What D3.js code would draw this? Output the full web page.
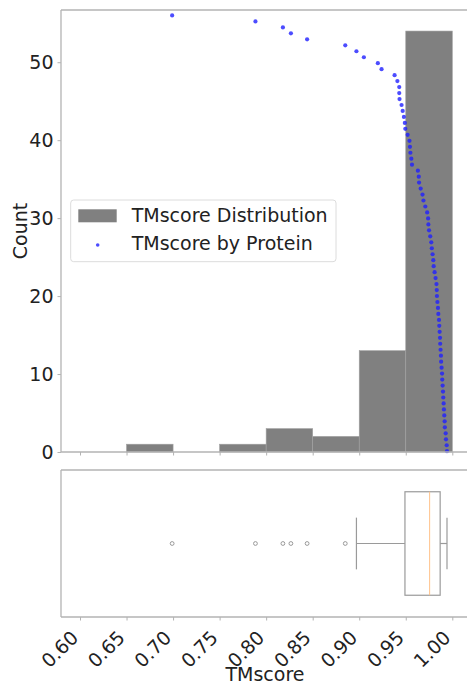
<!DOCTYPE html>
<html>
<head>
<meta charset="utf-8">
<script src="https://cdn.jsdelivr.net/npm/d3@7"></script>
<style>
  html, body { margin: 0; padding: 0; background: #fff; }
  svg { display: block; font-family: "DejaVu Sans", sans-serif; }
</style>
</head>
<body>
<svg id="chart" width="467" height="687"></svg>
<script>
// ---- data ----
const binEdges = [0.65, 0.70, 0.75, 0.80, 0.85, 0.90, 0.95, 1.00];
const binCounts = [1, 0, 1, 3, 2, 13, 54];
// per-protein TM scores, sorted ascending
const tmScores = [
  0.699, 0.7885, 0.818, 0.8266, 0.844, 0.885, 0.897, 0.905, 0.920, 0.924,
  0.938, 0.941, 0.943, 0.943, 0.9433, 0.9455, 0.9467, 0.948, 0.949, 0.9495,
  0.952, 0.954, 0.9545, 0.955, 0.956, 0.9567, 0.963, 0.964, 0.9643, 0.966,
  0.968, 0.969, 0.971, 0.973, 0.974, 0.9743, 0.975, 0.9763, 0.9774, 0.978,
  0.9788, 0.9796, 0.980, 0.981, 0.982, 0.983, 0.9833, 0.9835, 0.984, 0.9846,
  0.985, 0.9857, 0.986, 0.9864, 0.9868, 0.987, 0.9874, 0.9878, 0.988, 0.9885,
  0.989, 0.9892, 0.9896, 0.990, 0.9903, 0.9907, 0.991, 0.9914, 0.9918, 0.992,
  0.9929, 0.9932, 0.994, 0.9943
];
const xTicks = [0.60, 0.65, 0.70, 0.75, 0.80, 0.85, 0.90, 0.95, 1.00];
const yTicks = [0, 10, 20, 30, 40, 50];
const rankTopCount = 56;   // scatter ranks drawn from this count (lowest score) down to 0
const legendLabels = ["TMscore Distribution", "TMscore by Protein"];

// ---- layout ----
const svg = d3.select("#chart");
const axL = 61, axR = 469;
const mainTop = 10, mainBot = 452;
const boxTop = 470, boxBot = 617;
const spine = "#b3b3b3", textCol = "#222";
const FS = 19;

const x = d3.scaleLinear().domain([0.60, 1.00]).range([80, 452.3]);
const y = d3.scaleLinear().domain([0, 56.7]).range([mainBot, mainTop]);
const yRank = d3.scaleLinear().domain([0, tmScores.length - 1]).range([y(rankTopCount), y(0.1)]);
const yBox = d3.scaleLinear().domain([0.5, 1.5]).range([boxBot, boxTop]);

// ---- histogram bars ----
const bars = binCounts.map((c, i) => ({x0: binEdges[i], x1: binEdges[i + 1], c}));
svg.append("g").selectAll("rect").data(bars.filter(d => d.c > 0)).join("rect")
  .attr("x", d => x(d.x0)).attr("width", d => x(d.x1) - x(d.x0))
  .attr("y", d => y(d.c)).attr("height", d => y(0) - y(d.c))
  .attr("fill", "#808080").attr("stroke", "#a0a0a0").attr("stroke-width", 0.6);

// ---- scatter ----
svg.append("g").selectAll("circle").data(tmScores).join("circle")
  .attr("cx", d => x(d)).attr("cy", (d, i) => yRank(i)).attr("r", 2.1)
  .attr("fill", "#1f1fff").attr("fill-opacity", 0.8);

// ---- main axes spines ----
const spines = svg.append("g").attr("stroke", spine).attr("stroke-width", 1.3).attr("fill", "none");
spines.append("line").attr("x1", axL).attr("x2", axL).attr("y1", mainTop).attr("y2", mainBot);
spines.append("line").attr("x1", axL).attr("x2", axR).attr("y1", mainTop).attr("y2", mainTop);
spines.append("line").attr("x1", axL).attr("x2", axR).attr("y1", mainBot).attr("y2", mainBot);

// y axis ticks/labels
const yAxis = svg.append("g").attr("transform", `translate(${axL},0)`)
  .call(d3.axisLeft(y).tickValues(yTicks).tickSize(3.5).tickPadding(4).tickFormat(d3.format("d")));
yAxis.select(".domain").remove();
yAxis.selectAll("line").attr("stroke", spine);
yAxis.selectAll("text").attr("font-size", FS).attr("fill", textCol).attr("font-family", "DejaVu Sans");

// x ticks on main axes (no labels)
const xAxisTop = svg.append("g").attr("transform", `translate(0,${mainBot})`)
  .call(d3.axisBottom(x).tickValues(xTicks).tickSize(3.5).tickFormat(""));
xAxisTop.select(".domain").remove();
xAxisTop.selectAll("line").attr("stroke", spine);

// Count label
svg.append("text").attr("transform", `translate(27,${(mainTop + mainBot) / 2}) rotate(-90)`)
  .attr("text-anchor", "middle").attr("font-size", FS).attr("fill", textCol).text("Count");

// ---- legend ----
const lg = svg.append("g");
lg.append("rect").attr("x", 70.7).attr("y", 200).attr("width", 265.3).attr("height", 61.7)
  .attr("rx", 3).attr("fill", "#fff").attr("fill-opacity", 0.8).attr("stroke", "#dcdcdc").attr("stroke-width", 1);
lg.append("rect").attr("x", 78.3).attr("y", 209.3).attr("width", 38.4).attr("height", 13)
  .attr("fill", "#808080");
lg.append("circle").attr("cx", 97.7).attr("cy", 245).attr("r", 1.8).attr("fill", "#1f1fff").attr("fill-opacity", 0.8);
lg.selectAll("text.lab").data(legendLabels).join("text").attr("class", "lab")
  .attr("x", 131.7).attr("y", (d, i) => 221.7 + i * 28.3)
  .attr("font-size", FS).attr("fill", textCol).text(d => d);

// ---- boxplot axes ----
const bsp = svg.append("g").attr("stroke", spine).attr("stroke-width", 1.3).attr("fill", "none");
bsp.append("line").attr("x1", axL).attr("x2", axL).attr("y1", boxTop).attr("y2", boxBot);
bsp.append("line").attr("x1", axL).attr("x2", axR).attr("y1", boxTop).attr("y2", boxTop);
bsp.append("line").attr("x1", axL).attr("x2", axR).attr("y1", boxBot).attr("y2", boxBot);

const q1 = d3.quantile(tmScores, 0.25), med = d3.quantile(tmScores, 0.5), q3 = d3.quantile(tmScores, 0.75);
const iqr = q3 - q1;
const lo = d3.min(tmScores.filter(v => v >= q1 - 1.5 * iqr));
const hi = d3.max(tmScores.filter(v => v <= q3 + 1.5 * iqr));
const outliers = tmScores.filter(v => v < lo || v > hi);
const boxHalf = 0.352, capHalf = 0.176;
const bg = svg.append("g").attr("stroke", "#9a9a9a").attr("stroke-width", 1.2).attr("fill", "none");
bg.append("rect").attr("x", x(q1)).attr("width", x(q3) - x(q1))
  .attr("y", yBox(1 + boxHalf)).attr("height", yBox(1 - boxHalf) - yBox(1 + boxHalf));
bg.append("line").attr("x1", x(lo)).attr("x2", x(q1)).attr("y1", yBox(1)).attr("y2", yBox(1));
bg.append("line").attr("x1", x(q3)).attr("x2", x(hi)).attr("y1", yBox(1)).attr("y2", yBox(1));
bg.append("line").attr("x1", x(lo)).attr("x2", x(lo)).attr("y1", yBox(1 + capHalf)).attr("y2", yBox(1 - capHalf));
bg.append("line").attr("x1", x(hi)).attr("x2", x(hi)).attr("y1", yBox(1 + capHalf)).attr("y2", yBox(1 - capHalf));
svg.append("line").attr("x1", x(med)).attr("x2", x(med))
  .attr("y1", yBox(1 + boxHalf)).attr("y2", yBox(1 - boxHalf))
  .attr("stroke", "#ffc28a").attr("stroke-width", 1);
svg.append("g").selectAll("circle").data(outliers).join("circle")
  .attr("cx", d => x(d)).attr("cy", yBox(1)).attr("r", 1.9)
  .attr("fill", "none").attr("stroke", "#999").attr("stroke-width", 1);

// x axis with rotated labels
const xAxis = svg.append("g").attr("transform", `translate(0,${boxBot})`)
  .call(d3.axisBottom(x).tickValues(xTicks).tickSize(3.5).tickFormat(d3.format(".2f")));
xAxis.select(".domain").remove();
xAxis.selectAll("line").attr("stroke", spine);
xAxis.selectAll("text")
  .attr("font-size", FS).attr("fill", textCol).attr("font-family", "DejaVu Sans")
  .attr("text-anchor", "end").attr("dy", null).attr("y", 0)
  .attr("transform", "translate(-6,17) rotate(-45)")
  .attr("dominant-baseline", "central");

svg.append("text").attr("x", (axL + axR) / 2).attr("y", 681)
  .attr("text-anchor", "middle").attr("font-size", FS).attr("fill", textCol).text("TMscore");
</script>
</body>
</html>
